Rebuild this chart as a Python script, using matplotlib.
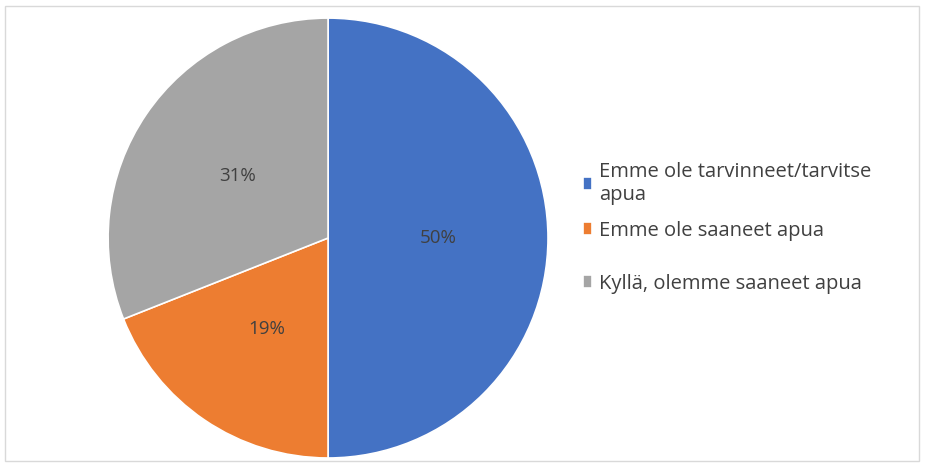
import matplotlib as mpl
mpl.use('Agg')
import matplotlib.pyplot as plt
from matplotlib.patches import Rectangle

labels = ['Emme ole tarvinneet/tarvitse\napua', 'Emme ole saaneet apua', 'Kyllä, olemme saaneet apua']
shares = [50, 19, 31]
colors = ['#4472C4', '#ED7D31', '#A5A5A5']

plt.rcParams['font.family'] = ['Open Sans', 'DejaVu Sans']

fig = plt.figure(figsize=(9.25, 4.66), dpi=100)
fig.patches.append(Rectangle((0.005, 0.01), 0.988, 0.978, transform=fig.transFigure,
                             fill=False, edgecolor='#d9d9d9', linewidth=1.0))

ax = fig.add_axes([0.1168, 0.0172, 0.4757, 0.944])
wedges, texts, autotexts = ax.pie(shares, colors=colors, startangle=90, counterclock=False,
                                  autopct='%1.0f%%', pctdistance=0.5,
                                  wedgeprops=dict(edgecolor='white', linewidth=1.2),
                                  textprops=dict(color='#404040', fontsize=13.5))
ax.set_xlim(-1, 1)
ax.set_ylim(-1, 1)
ax.set_aspect('equal')

# excel-style legend: uneven gaps, so split in two
legopts = dict(frameon=False, fontsize=14.5, labelcolor='#404040',
               handlelength=0.42, handleheight=0.6, handletextpad=0.35)
fig.legend(wedges[:2], labels[:2], loc='upper left', bbox_to_anchor=(0.611, 0.692),
           labelspacing=0.8, **legopts)
fig.legend(wedges[2:], labels[2:], loc='center left', bbox_to_anchor=(0.611, 0.391),
           **legopts)

plt.savefig('out.png', dpi=100)
